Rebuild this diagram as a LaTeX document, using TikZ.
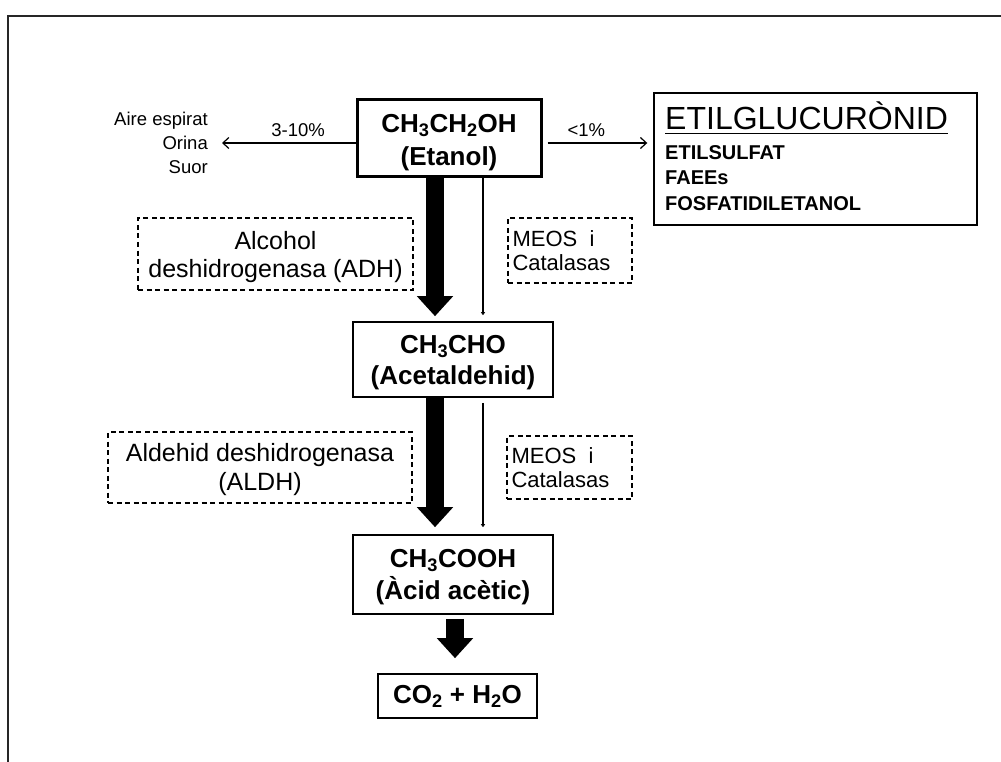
\documentclass[tikz,border=0pt]{standalone}
\usepackage{fontspec}
\setmainfont{Liberation Sans}
\usetikzlibrary{arrows.meta}

\newcommand\fsz[1]{\fontsize{#1}{1.2\dimexpr#1pt\relax}\selectfont}

\tikzset{
  frame/.style={line width=2pt, black!85},
  chem/.style={draw, line width=1.6pt, inner sep=0pt},
  chemtext/.style={inner sep=0pt, align=center, font=\fsz{26}\bfseries},
  enzyme/.style={draw, dashed, dash pattern=on 5pt off 3.5pt, line width=1.4pt,
    inner sep=0pt},
  enzymetext/.style={inner sep=0pt, align=center, font=\fsz{25}},
  meostext/.style={inner sep=0pt, align=left, font=\fsz{22}},
  small/.style={inner sep=0pt, font=\fsz{18.5}},
  thin arrow/.style={line width=1.3pt, -{Straight Barb[length=6pt,width=11pt,line width=1.2pt]}},
  side line/.style={line width=1.5pt, -{Triangle[length=3pt,width=4pt]}},
  big arrow/.style={line width=18pt, -{Triangle[length=20pt,width=35pt]}},
}

\begin{document}
\begin{tikzpicture}[x=1pt, y=-1pt]
\useasboundingbox (0,0) rectangle (1001,762);

% outer frame (top and left sides)
\draw[frame] (1001,16) -- (8,16) -- (8,762);

% main chain of metabolites
\node[chem, line width=3pt, minimum width=184pt, minimum height=77pt]
  (etanol) at (449,138.5) {};
\node[chemtext] (etanol-t) at ([yshift=-4pt]etanol.center)
  {CH\textsubscript{3}CH\textsubscript{2}OH\\[2pt](Etanol)};
\node[chem, minimum width=200pt, minimum height=75pt]
  (acet) at (453,359.5) {};
\node[chemtext] (acet-t) at ([yshift=-3pt]acet.center)
  {CH\textsubscript{3}CHO\\[0pt](Acetaldehid)};
\node[chem, minimum width=200pt, minimum height=79pt]
  (acid) at (453,574.5) {};
\node[chemtext] (acid-t) at ([yshift=-3pt]acid.center)
  {CH\textsubscript{3}COOH\\[1pt](Àcid acètic)};
\node[chem, minimum width=159pt, minimum height=44pt]
  (final) at (457.5,696) {};
\node[chemtext] (final-t) at (final.center) {CO\textsubscript{2} + H\textsubscript{2}O};

% elimination routes
\node[small, align=right, anchor=east] (out) at (208,143)
  {Aire espirat\\[2pt]Orina\\[2pt]Suor};
\node[draw, line width=1.4pt, minimum width=323pt, minimum height=132pt, inner sep=0pt]
  (metab) at (815.5,159) {};
\node[inner sep=0pt, anchor=base west, font=\fsz{32}] (title) at (665,130) {ETILGLUCURÒNID};
\draw[line width=1.3pt] ([yshift=-3.5pt]title.base west) -- ([yshift=-3.5pt]title.base east);
\node[inner sep=0pt, anchor=north west, align=left, font=\fsz{20}\bfseries]
  (items) at (665,145)
  {ETILSULFAT\\[1.5pt]FAEEs\\[1.5pt]FOSFATIDILETANOL};

\draw[thin arrow] ([yshift=-4.5pt]etanol.west) -- ([xshift=14pt]out.east |- 0,143)
  node[small, pos=0.43, above=6pt] (pl) {3-10\%};
\draw[thin arrow] ([yshift=-4.5pt,xshift=5pt]etanol.east) -- ([xshift=-6pt]metab.west |- 0,143)
  node[small, pos=0.39, above=6pt] (pr) {<1\%};

% enzymes
\node[enzyme, minimum width=275pt, minimum height=72pt] (adh) at (275.5,254) {};
\node[enzymetext] (adh-t) at ([yshift=-3pt]adh.center)
  {Alcohol\\[-2pt]deshidrogenasa (ADH)};
\node[enzyme, minimum width=124pt, minimum height=65pt] (meos1) at (570,250.5) {};
\node[meostext, anchor=west] (meos1-t) at ([xshift=5pt]meos1.west)
  {MEOS \ i\\[-3pt]Catalasas};
\node[enzyme, minimum width=304pt, minimum height=71pt] (aldh) at (260,467.5) {};
\node[enzymetext] (aldh-t) at ([yshift=-2pt]aldh.center)
  {Aldehid deshidrogenasa\\[-1pt](ALDH)};
\node[enzyme, minimum width=125pt, minimum height=63pt] (meos2) at (569.5,467.5) {};
\node[meostext, anchor=west] (meos2-t) at ([xshift=5pt]meos2.west)
  {MEOS \ i\\[-3pt]Catalasas};

% main (thick) and minor (thin) pathways
\draw[big arrow] ([xshift=-14pt]etanol.south) -- ([xshift=-18pt,yshift=5pt]acet.north);
\draw[side line] ([xshift=34pt]etanol.south) -- ([xshift=30pt,yshift=6pt]acet.north);
\draw[big arrow] ([xshift=-18pt]acet.south) -- ([xshift=-18pt,yshift=7pt]acid.north);
\draw[side line] ([xshift=30pt,yshift=-5pt]acet.south) -- ([xshift=30pt,yshift=7pt]acid.north);
\draw[big arrow] ([xshift=2pt,yshift=-4pt]acid.south) -- ([xshift=-2.5pt,yshift=15pt]final.north);
\end{tikzpicture}
\end{document}
